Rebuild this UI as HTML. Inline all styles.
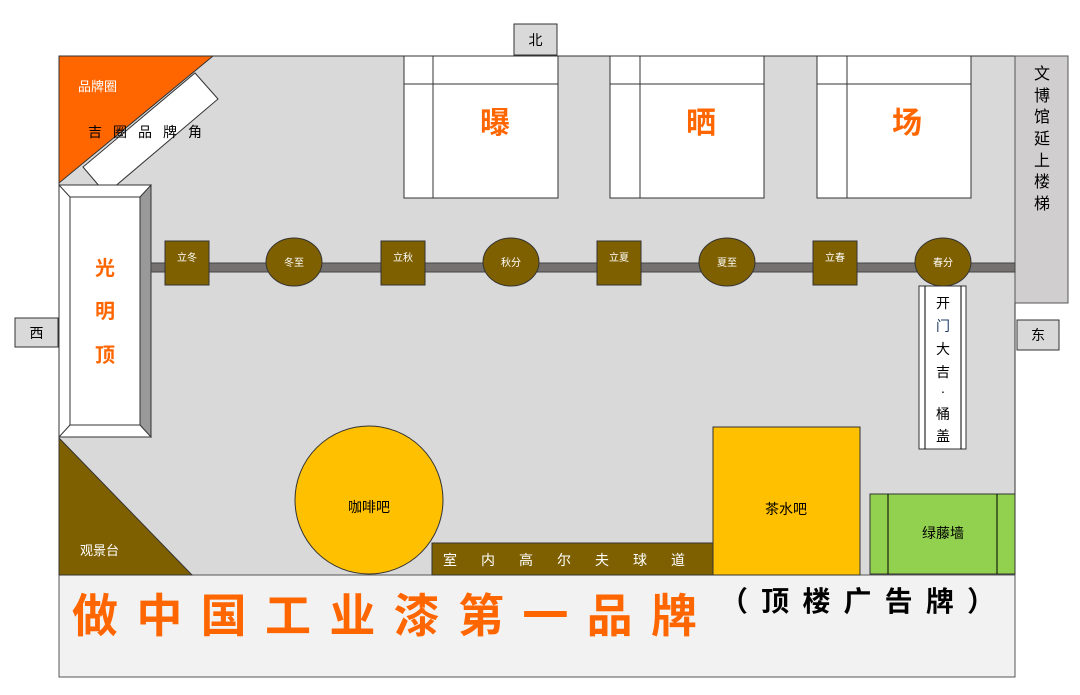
<!DOCTYPE html>
<html><head><meta charset="utf-8"><style>body{margin:0;background:#fff}svg{display:block}text{font-family:"Liberation Sans","Noto Sans CJK SC",sans-serif}</style></head><body>
<svg width="1080" height="695" viewBox="0 0 1080 695" xmlns="http://www.w3.org/2000/svg">
<rect x="59" y="56" width="956" height="519" fill="#d9d9d9" stroke="#333" stroke-width="1"/>
<rect x="59" y="575" width="956" height="102" fill="#f2f2f2" stroke="#555" stroke-width="1"/>
<rect x="514" y="24" width="43" height="31" fill="#d9d9d9" stroke="#333"/><text x="535.5" y="45" font-size="14" text-anchor="middle">北</text>
<rect x="15" y="318" width="43" height="29" fill="#d9d9d9" stroke="#333"/><text x="36.5" y="338" font-size="14" text-anchor="middle">西</text>
<rect x="1017" y="320" width="42" height="30" fill="#d9d9d9" stroke="#333"/><text x="1038" y="340" font-size="14" text-anchor="middle">东</text>
<rect x="1015" y="56" width="53" height="247" fill="#d0cece" stroke="#555"/>
<g font-size="16" text-anchor="middle"><text x="1042" y="79">文</text><text x="1042" y="101">博</text><text x="1042" y="122">馆</text><text x="1042" y="144">延</text><text x="1042" y="166">上</text><text x="1042" y="187">楼</text><text x="1042" y="209">梯</text></g>
<polygon points="59,56 213,56 59,183" fill="#ff6600" stroke="#333"/>
<text x="78" y="91" font-size="13" fill="#fff">品牌圈</text>
<polygon points="195,73 218,99 106,194 83,167" fill="#fff" stroke="#333"/>
<text x="88" y="137" font-size="14" letter-spacing="11">吉圈品牌角</text>
<polygon points="59,185 151,185 151,437 59,437" fill="#fff" stroke="#333"/>
<polygon points="140,197 151,185 151,437 140,425" fill="#999" stroke="#333"/>
<line x1="59" y1="185" x2="70" y2="197" stroke="#333"/><line x1="59" y1="437" x2="70" y2="425" stroke="#333"/>
<rect x="70" y="197" width="70" height="228" fill="#fff" stroke="#333"/>
<g font-size="20" font-weight="bold" fill="#ff6600" text-anchor="middle"><text x="105" y="275">光</text><text x="105" y="318">明</text><text x="105" y="362">顶</text></g>
<polygon points="59,438 59,575 192,575" fill="#7f6000" stroke="#333"/>
<text x="80" y="555" font-size="13" fill="#fff">观景台</text>
<g fill="#fff" stroke="#333">
<rect x="404" y="56" width="154" height="142"/><line x1="433" y1="56" x2="433" y2="198"/><line x1="404" y1="84" x2="558" y2="84"/>
<rect x="610" y="56" width="154" height="142"/><line x1="640" y1="56" x2="640" y2="198"/><line x1="610" y1="84" x2="764" y2="84"/>
<rect x="817" y="56" width="154" height="142"/><line x1="847" y1="56" x2="847" y2="198"/><line x1="817" y1="84" x2="971" y2="84"/>
</g>
<g font-size="30" font-weight="bold" fill="#ff6600" text-anchor="middle"><text x="495" y="133">曝</text><text x="701" y="133">晒</text><text x="907" y="133">场</text></g>
<rect x="151" y="263" width="864" height="9" fill="#767171" stroke="#444"/>
<g fill="#7f6000" stroke="#333">
<rect x="165" y="241" width="44" height="44"/><ellipse cx="294" cy="262" rx="28" ry="24"/>
<rect x="381" y="241" width="44" height="44"/><ellipse cx="511" cy="262" rx="28" ry="24"/>
<rect x="597" y="241" width="44" height="44"/><ellipse cx="727" cy="262" rx="28" ry="24"/>
<rect x="813" y="241" width="44" height="44"/><ellipse cx="943" cy="262" rx="28" ry="24"/>
</g>
<g font-size="10" fill="#fff" text-anchor="middle">
<text x="187" y="261">立冬</text><text x="294" y="266">冬至</text><text x="403" y="261">立秋</text><text x="511" y="266">秋分</text>
<text x="619" y="261">立夏</text><text x="727" y="266">夏至</text><text x="835" y="261">立春</text><text x="943" y="266">春分</text>
</g>
<rect x="919" y="286" width="47" height="163" fill="#fff" stroke="#333"/>
<line x1="925" y1="286" x2="925" y2="449" stroke="#000"/><line x1="961" y1="286" x2="961" y2="449" stroke="#000"/>
<g font-size="14" text-anchor="middle"><text x="943" y="308">开</text><text x="943" y="331" fill="#1f3864">门</text><text x="943" y="354">大</text><text x="943" y="377">吉</text><text x="943" y="396">·</text><text x="943" y="419">桶</text><text x="943" y="441">盖</text></g>
<circle cx="369" cy="500" r="74" fill="#ffc000" stroke="#333"/>
<text x="369" y="512" font-size="14" text-anchor="middle">咖啡吧</text>
<rect x="432" y="543" width="281" height="32" fill="#7f6000" stroke="#333"/>
<text x="443" y="565" font-size="14" fill="#fff" letter-spacing="24">室内高尔夫球道</text>
<rect x="713" y="427" width="147" height="148" fill="#ffc000" stroke="#333"/>
<text x="786" y="514" font-size="14" text-anchor="middle">茶水吧</text>
<rect x="870" y="494" width="145" height="80" fill="#92d050" stroke="#333"/>
<line x1="888" y1="494" x2="888" y2="574" stroke="#000"/><line x1="997" y1="494" x2="997" y2="574" stroke="#000"/>
<text x="943" y="538" font-size="14" text-anchor="middle">绿藤墙</text>
<text x="72" y="632" font-size="46" font-weight="bold" fill="#ff6600" textLength="625" lengthAdjust="spacing">做中国工业漆第一品牌</text>
<text x="720" y="611" font-size="28" font-weight="bold" textLength="275" lengthAdjust="spacing">（顶楼广告牌）</text>
</svg>
</body></html>
